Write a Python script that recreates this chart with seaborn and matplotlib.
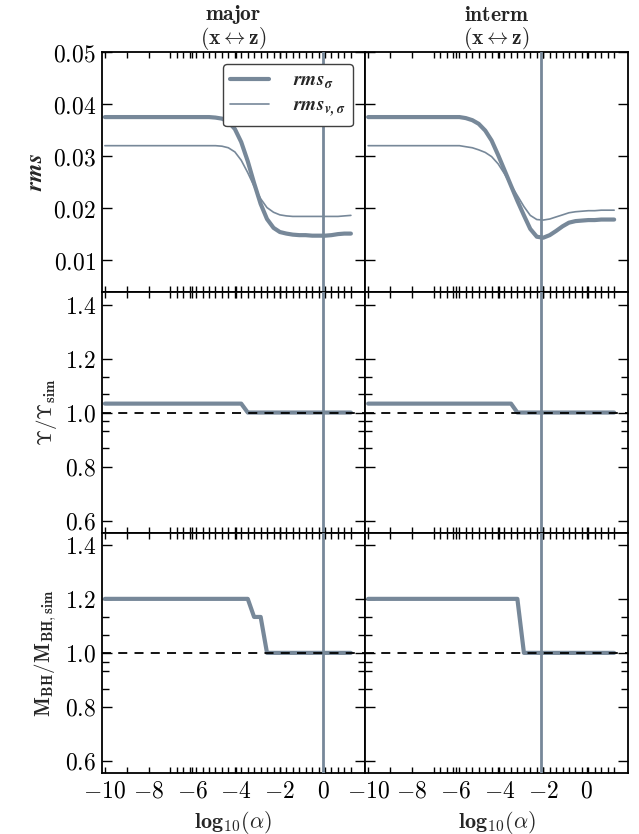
import matplotlib
matplotlib.use("Agg")
import matplotlib.pyplot as plt
import seaborn as sns
import pandas as pd
from matplotlib.ticker import FixedLocator, FuncFormatter
from matplotlib.lines import Line2D

# ---------------- data ----------------
log_alpha = [-10, -9, -8, -7.0, -6.71, -6.41, -6.12, -5.82, -5.53, -5.23, -4.94,
             -4.64, -4.35, -4.05, -3.76, -3.46, -3.17, -2.87, -2.58, -2.28, -1.99,
             -1.69, -1.40, -1.10, -0.81, -0.51, -0.22, 0.08, 0.37, 0.67, 0.96, 1.26]

panels = ["major", "interm"]
vline_pos = [0.0, -2.1]

rms_sigma_major = [0.0375, 0.0375, 0.0375, 0.0375, 0.0375, 0.0375, 0.0375, 0.0375, 0.0375, 0.0375, 0.0374,
                   0.0372, 0.0366, 0.0352, 0.0327, 0.0290, 0.0248, 0.0208, 0.0179, 0.0162, 0.0154,
                   0.0151, 0.0149, 0.0148, 0.0148, 0.0147, 0.0147, 0.0147, 0.0148, 0.0150, 0.0151, 0.0151]
rms_vsigma_major = [0.0320, 0.0320, 0.0320, 0.0320, 0.0320, 0.0320, 0.0320, 0.0320, 0.0320, 0.0320, 0.0320,
                    0.0319, 0.0316, 0.0308, 0.0292, 0.0268, 0.0242, 0.0218, 0.0201, 0.0192, 0.0187,
                    0.0185, 0.0184, 0.0184, 0.0184, 0.0184, 0.0184, 0.0184, 0.0184, 0.0184, 0.0185, 0.0186]
rms_sigma_interm = [0.0375, 0.0375, 0.0375, 0.0375, 0.0375, 0.0375, 0.0375, 0.0375, 0.0373, 0.0369, 0.0362,
                    0.0349, 0.0330, 0.0302, 0.0273, 0.0243, 0.0214, 0.0186, 0.0160, 0.0145, 0.0143,
                    0.0148, 0.0156, 0.0165, 0.0172, 0.0175, 0.0176, 0.0177, 0.0177, 0.0178, 0.0178, 0.0178]
rms_vsigma_interm = [0.0320, 0.0320, 0.0320, 0.0320, 0.0320, 0.0320, 0.0320, 0.0320, 0.0318, 0.0316, 0.0312,
                     0.0307, 0.0299, 0.0285, 0.0266, 0.0244, 0.0224, 0.0203, 0.0186, 0.0178, 0.0177,
                     0.0179, 0.0183, 0.0187, 0.0191, 0.0193, 0.0194, 0.0195, 0.0195, 0.0196, 0.0196, 0.0196]

ups_major = [1.033, 1.033, 1.033, 1.033, 1.033, 1.033, 1.033, 1.033, 1.033, 1.033, 1.033,
             1.033, 1.033, 1.033, 1.033, 1.0, 1.0, 1.0, 1.0, 1.0, 1.0,
             1.0, 1.0, 1.0, 1.0, 1.0, 1.0, 1.0, 1.0, 1.0, 1.0, 1.0]
ups_interm = [1.033, 1.033, 1.033, 1.033, 1.033, 1.033, 1.033, 1.033, 1.033, 1.033, 1.033,
              1.033, 1.033, 1.033, 1.033, 1.033, 1.0, 1.0, 1.0, 1.0, 1.0,
              1.0, 1.0, 1.0, 1.0, 1.0, 1.0, 1.0, 1.0, 1.0, 1.0, 1.0]
mbh_major = [1.2, 1.2, 1.2, 1.2, 1.2, 1.2, 1.2, 1.2, 1.2, 1.2, 1.2,
             1.2, 1.2, 1.2, 1.2, 1.2, 1.133, 1.133, 1.0, 1.0, 1.0,
             1.0, 1.0, 1.0, 1.0, 1.0, 1.0, 1.0, 1.0, 1.0, 1.0, 1.0]
mbh_interm = [1.2, 1.2, 1.2, 1.2, 1.2, 1.2, 1.2, 1.2, 1.2, 1.2, 1.2,
              1.2, 1.2, 1.2, 1.2, 1.2, 1.2, 1.0, 1.0, 1.0, 1.0,
              1.0, 1.0, 1.0, 1.0, 1.0, 1.0, 1.0, 1.0, 1.0, 1.0, 1.0]

x_major_ticks = [-10, -8, -6, -4, -2, 0]
rms_ticks = [0.01, 0.02, 0.03, 0.04, 0.05]
ratio_ticks = [0.6, 0.8, 1.0, 1.2, 1.4]
ratio_minor_ticks = [0.867, 0.933, 0.967, 1.067, 1.133]

# ---------------- style ----------------
sns.set_style("ticks")
plt.rcParams.update({
    "mathtext.fontset": "cm",
    "font.family": ["DejaVu Serif"],
    "axes.linewidth": 1.3,
    "xtick.direction": "in",
    "ytick.direction": "in",
    "xtick.top": True,
    "ytick.right": True,
})

col = "lightslategray"

fig, axes = plt.subplots(3, 2, figsize=(6.39, 8.34), dpi=100, sharex=True, sharey="row")
fig.subplots_adjust(left=0.159, right=0.983, top=0.9376, bottom=0.0731, wspace=0, hspace=0)

rms_data = [(rms_sigma_major, rms_vsigma_major), (rms_sigma_interm, rms_vsigma_interm)]
ups_data = [ups_major, ups_interm]
mbh_data = [mbh_major, mbh_interm]

for j in range(2):
    ax = axes[0, j]
    df = pd.DataFrame({"x": log_alpha, "s": rms_data[j][0], "v": rms_data[j][1]})
    sns.lineplot(data=df, x="x", y="s", ax=ax, color=col, lw=3, legend=False, estimator=None, sort=False)
    sns.lineplot(data=df, x="x", y="v", ax=ax, color=col, lw=1.2, legend=False, estimator=None, sort=False)
    ax.set_ylim(0.0038, 0.05)

    for i, vals in ((1, ups_data[j]), (2, mbh_data[j])):
        ax2 = axes[i, j]
        d2 = pd.DataFrame({"x": log_alpha, "y": vals})
        sns.lineplot(data=d2, x="x", y="y", ax=ax2, color=col, lw=3, legend=False, estimator=None, sort=False)
        ax2.axhline(1.0, color="black", ls="--", lw=1.3, dashes=(5, 4), zorder=5)
        ax2.set_ylim(0.555, 1.445)

    for i in range(3):
        axes[i, j].axvline(vline_pos[j], color=col, lw=2, zorder=4)

for i in range(3):
    for j in range(2):
        ax = axes[i, j]
        ax.set_xlim(-10.15, 1.9)
        ax.xaxis.set_major_locator(FixedLocator(x_major_ticks))
        ax.xaxis.set_minor_locator(FixedLocator(log_alpha))
        ax.xaxis.set_major_formatter(FuncFormatter(lambda v, p: r"$%d$" % round(v)))
        if i == 0:
            ax.yaxis.set_major_locator(FixedLocator(rms_ticks))
            ax.yaxis.set_major_formatter(FuncFormatter(lambda v, p: r"$%.2f$" % v))
        else:
            ax.yaxis.set_major_locator(FixedLocator(ratio_ticks))
            ax.yaxis.set_minor_locator(FixedLocator(ratio_minor_ticks))
            ax.yaxis.set_major_formatter(FuncFormatter(lambda v, p: r"$%.1f$" % v))
        ax.tick_params(axis="both", which="both", direction="in", top=True, right=True,
                       labelsize=17, colors="black")
        ax.tick_params(axis="x", which="major", length=4, width=1, pad=5)
        ax.tick_params(axis="x", which="minor", length=4, width=1)
        ax.tick_params(axis="y", which="major", length=7, width=1, pad=4)
        ax.tick_params(axis="y", which="minor", length=5, width=1)
        for s in ax.spines.values():
            s.set_color("black")
            s.set_linewidth(1.3)
        ax.set_xlabel("")
        ax.set_ylabel("")
        if i < 2:
            ax.tick_params(labelbottom=False)
        if j == 1:
            ax.tick_params(labelleft=False)

for j, name in enumerate(panels):
    axes[0, j].set_title(r"$\mathbf{%s}$" % name + "\n" + r"$\mathbf{(x \leftrightarrow z)}$",
                         fontsize=15.5, pad=3, linespacing=0.95)

axes[0, 0].set_ylabel(r"$\mathbfit{rms}$", fontsize=17)
axes[1, 0].set_ylabel(r"$\mathbf{\Upsilon / \Upsilon_{sim}}$", fontsize=15)
axes[2, 0].set_ylabel(r"$\mathbf{M_{BH} / M_{BH,sim}}$", fontsize=15)
for j in range(2):
    axes[2, j].set_xlabel(r"$\mathbf{log_{10}(\alpha)}$", fontsize=16, labelpad=4)

handles = [Line2D([], [], color=col, lw=3), Line2D([], [], color=col, lw=1.2)]
labels = [r"$\mathbfit{rms}_{\mathbfit{\sigma}}$", r"$\mathbfit{rms}_{\mathbfit{v,\sigma}}$"]
leg = axes[0, 0].legend(handles, labels, loc="upper right", fontsize=14, fancybox=True,
                        framealpha=1, edgecolor="0.25", handlelength=2.0, borderpad=0.4,
                        labelspacing=0.3, handletextpad=1.2, borderaxespad=0.6)
leg.get_frame().set_linewidth(1.0)

fig.savefig("out.png", dpi=100)
